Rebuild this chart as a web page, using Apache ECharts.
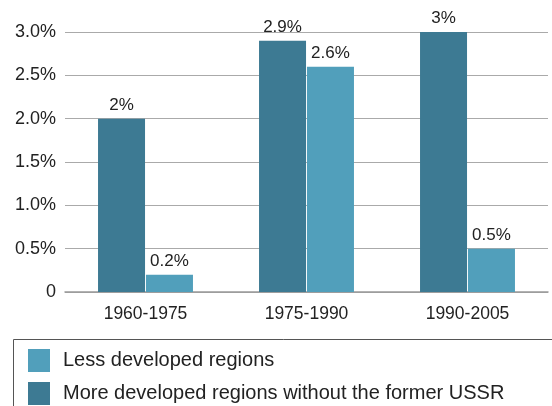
<!DOCTYPE html>
<html><head><meta charset="utf-8">
<script src="https://cdn.jsdelivr.net/npm/echarts@6/dist/echarts.min.js"></script>
<style>html,body{margin:0;padding:0;background:#fff}#c{width:552px;height:406px}</style>
</head><body><div id="c"></div>
<script>
const categories = ['1960-1975', '1975-1990', '1990-2005'];
const moreDeveloped = [2, 2.9, 3];
const lessDeveloped = [0.2, 2.6, 0.5];
const moreLabels = ['2%', '2.9%', '3%'];
const lessLabels = ['0.2%', '2.6%', '0.5%'];
const seriesNames = ['Less developed regions', 'More developed regions without the former USSR'];
const yTicks = [0, 0.5, 1, 1.5, 2, 2.5, 3];

const font = 'Liberation Sans, Arial, sans-serif';
const legendBase = {
  left: 28, itemWidth: 22, itemHeight: 23, padding: 0,
  icon: 'rect', selectedMode: false,
  textStyle: { color: '#222', fontSize: 20, fontFamily: font, padding: [0, 0, 0, 8] }
};
const chart = echarts.init(document.getElementById('c'));
chart.setOption({
  animation: false,
  textStyle: { fontFamily: font },
  grid: { left: 65, right: 4, top: 32, bottom: 114 },
  xAxis: {
    type: 'category', data: categories,
    axisLine: { lineStyle: { color: '#999', width: 1.5 } },
    axisTick: { show: false },
    axisLabel: { color: '#222', fontSize: 17.5, margin: 13, fontFamily: font }
  },
  yAxis: {
    type: 'value', min: 0, max: 3, interval: 0.5,
    axisLine: { show: false }, axisTick: { show: false },
    splitLine: { lineStyle: { color: '#aaa', width: 1.2 } },
    axisLabel: {
      color: '#222', fontSize: 18, margin: 9, fontFamily: font,
      formatter: v => v === 0 ? '0' : v.toFixed(1) + '%'
    }
  },
  legend: [
    Object.assign({}, legendBase, { top: 349, data: [seriesNames[0]] }),
    Object.assign({}, legendBase, { top: 382, data: [seriesNames[1]] })
  ],
  graphic: [{
    type: 'rect', shape: { x: 13.5, y: 339.5, width: 600, height: 100 },
    style: { fill: 'none', stroke: '#555', lineWidth: 1 }, z: -1
  }],
  series: [
    {
      name: seriesNames[1], type: 'bar', data: moreDeveloped,
      barWidth: 47, barGap: '2%',
      itemStyle: { color: '#3d7a93' },
      label: { show: true, position: 'top', distance: 5, color: '#222', fontSize: 17, fontFamily: font,
        formatter: p => moreLabels[p.dataIndex] }
    },
    {
      name: seriesNames[0], type: 'bar', data: lessDeveloped,
      barWidth: 47, barGap: '2%',
      itemStyle: { color: '#519fbb' },
      label: { show: true, position: 'top', distance: 5, color: '#222', fontSize: 17, fontFamily: font,
        formatter: p => lessLabels[p.dataIndex] }
    }
  ]
});
</script></body></html>
